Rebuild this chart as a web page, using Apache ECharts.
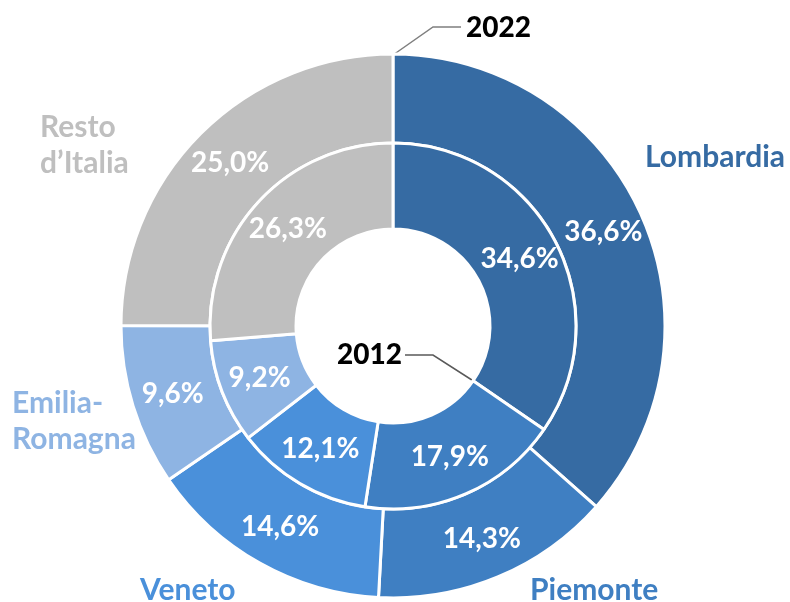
<!DOCTYPE html>
<html>
<head>
<meta charset="utf-8">
<script src="https://cdn.jsdelivr.net/npm/echarts@6/dist/echarts.min.js"></script>
<style>
  html, body { margin: 0; padding: 0; background: #fff; }
  #myChart { width: 790px; height: 602px; }
</style>
</head>
<body>
<div id="myChart"></div>
<script>
// categories and values (share %, clockwise from top)
var regions = ['Lombardia', 'Piemonte', 'Veneto', 'Emilia-\nRomagna', 'Resto\nd’Italia']
var share2022 = [36.6, 14.3, 14.6, 9.6, 25.0]
var share2012 = [34.6, 17.9, 12.1, 9.2, 26.3]
var yearLabels = ['2022', '2012']

var colors = ['#366ba3', '#3f7fc2', '#4a90da', '#8eb4e3', '#bfbfbf']
// where the region names sit (left edge, vertical middle)
var nameSpots = [[645, 157], [530, 590], [140, 590], [12, 421], [40, 145]]

var cx = 393, cy = 326
var rHole = 97, rMid = 183, rOut = 272
var font = 'Lato'

function pct (v) {
  return v.toFixed(1).replace('.', ',') + '%'
}

function toData (vals) {
  return vals.map(function (v, i) {
    return { name: regions[i], value: v, itemStyle: { color: colors[i] } }
  })
}

var valueLabel = {
  show: true,
  position: 'inside',
  color: '#fff',
  fontFamily: font,
  fontWeight: 'bold',
  fontSize: 28,
  formatter: function (p) { return pct(p.value) }
}

var myChart = echarts.init(document.getElementById('myChart'))
myChart.setOption({
  animation: false,
  series: [
    {
      name: yearLabels[0],
      type: 'pie',
      center: [cx, cy],
      radius: [rMid, rOut],
      startAngle: 90,
      clockwise: true,
      itemStyle: { borderColor: '#fff', borderWidth: 3 },
      label: valueLabel,
      labelLine: { show: false },
      data: toData(share2022)
    },
    {
      name: yearLabels[1],
      type: 'pie',
      center: [cx, cy],
      radius: [rHole, rMid],
      startAngle: 90,
      clockwise: true,
      itemStyle: { borderColor: '#fff', borderWidth: 3 },
      label: valueLabel,
      labelLine: { show: false },
      data: toData(share2012)
    },
    {
      // region names outside the outer ring
      type: 'pie',
      silent: true,
      center: [cx, cy],
      radius: [rMid, rOut],
      startAngle: 90,
      avoidLabelOverlap: false,
      itemStyle: { color: 'rgba(0,0,0,0)' },
      label: {
        show: true,
        position: 'outside',
        fontFamily: font,
        fontWeight: 'bold',
        fontSize: 30,
        lineHeight: 36,
        formatter: '{b}'
      },
      labelLine: { show: false },
      labelLayout: function (p) {
        var s = nameSpots[p.dataIndex]
        return { x: s[0], y: s[1], align: 'left', verticalAlign: 'middle' }
      },
      data: share2022.map(function (v, i) {
        return { name: regions[i], value: v, label: { color: colors[i] } }
      })
    }
  ],
  graphic: [
    {
      type: 'polyline',
      shape: { points: [[cx, cy - rOut + 1], [cx + 40, 27], [cx + 68, 27]] },
      style: { stroke: '#7f7f7f', lineWidth: 1.5, fill: null }
    },
    {
      type: 'text',
      left: 466,
      top: 14,
      style: { text: yearLabels[0], fontFamily: font, fontWeight: 900, fontSize: 28, fill: '#000' }
    },
    {
      type: 'polyline',
      shape: { points: [[405, 355], [433, 355], [cx + 82, cy + 56]] },
      style: { stroke: '#595959', lineWidth: 1.5, fill: null }
    },
    {
      type: 'text',
      left: 337,
      top: 341,
      style: { text: yearLabels[1], fontFamily: font, fontWeight: 900, fontSize: 28, fill: '#000' }
    }
  ]
})
</script>
</body>
</html>
